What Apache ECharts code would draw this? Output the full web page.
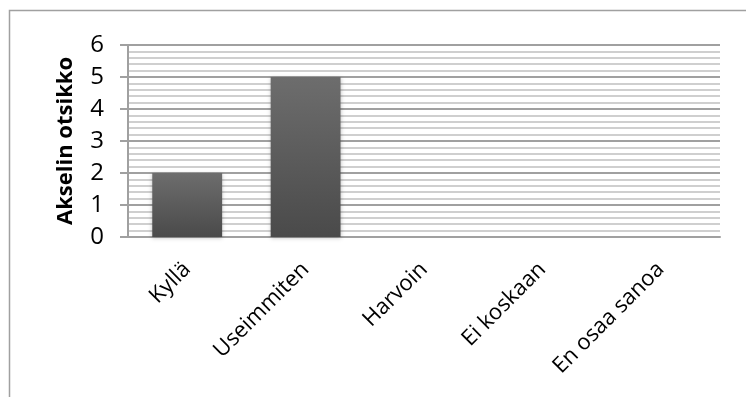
<!DOCTYPE html>
<html>
<head>
<meta charset="utf-8">
<script src="https://cdn.jsdelivr.net/npm/echarts@6/dist/echarts.min.js"></script>
<style>
  html, body { margin: 0; padding: 0; background: #fff; }
  #chart { width: 746px; height: 397px; }
</style>
</head>
<body>
<div id="chart"></div>
<script>
const categories = ['Kyllä', 'Useimmiten', 'Harvoin', 'Ei koskaan', 'En osaa sanoa'];
const values = [2, 5, 0, 0, 0];
const yTicks = [0, 1, 2, 3, 4, 5, 6];
const yTitle = 'Akselin otsikko';

const chart = echarts.init(document.getElementById('chart'));

const option = {
  animation: false,
  textStyle: { fontFamily: '"Open Sans", sans-serif' },
  graphic: [
    {
      type: 'polyline',
      shape: { points: [[9.5, 397], [9.5, 10.5], [746, 10.5]] },
      style: { stroke: '#a0a0a0', lineWidth: 1.5, fill: null }
    }
  ],
  grid: { left: 128, right: 26, top: 45, bottom: 160 },
  xAxis: {
    type: 'category',
    data: categories,
    axisLine: { lineStyle: { color: '#a0a0a0', width: 2 } },
    axisTick: { show: false },
    axisLabel: {
      rotate: 45,
      margin: 29,
      fontSize: 22,
      color: '#000',
      fontFamily: '"Open Sans", sans-serif'
    }
  },
  yAxis: {
    type: 'value',
    min: yTicks[0],
    max: yTicks[yTicks.length - 1],
    interval: 1,
    name: yTitle,
    nameLocation: 'middle',
    nameGap: 51,
    nameTextStyle: { fontSize: 22, fontWeight: 'bold', color: '#000' },
    axisLine: { show: true, lineStyle: { color: '#a0a0a0', width: 2 } },
    axisTick: { show: true, length: 8, lineStyle: { color: '#a0a0a0', width: 2 } },
    axisLabel: { fontSize: 24, color: '#000', margin: 24 },
    splitLine: { show: true, lineStyle: { color: '#a0a0a0', width: 2 } },
    minorTick: { show: false, splitNumber: 5 },
    minorSplitLine: { show: true, lineStyle: { color: '#cfcfcf', width: 2 } }
  },
  series: [
    {
      type: 'bar',
      data: values,
      barWidth: '59%',
      itemStyle: {
        color: new echarts.graphic.LinearGradient(0, 0, 0, 1, [
          { offset: 0, color: '#6d6d6d' },
          { offset: 1, color: '#4a4a4a' }
        ]),
        shadowColor: 'rgba(0,0,0,0.25)',
        shadowBlur: 4,
        shadowOffsetY: 1
      }
    }
  ]
};

chart.setOption(option);
</script>
</body>
</html>
